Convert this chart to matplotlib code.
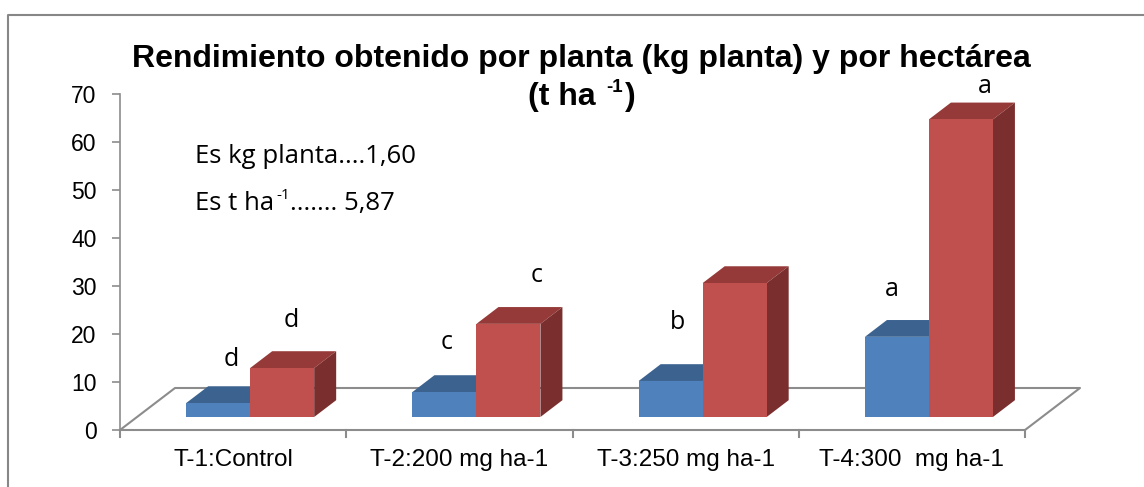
import numpy as np
import matplotlib
matplotlib.use("Agg")
import matplotlib.pyplot as plt
from matplotlib.patches import Polygon
from matplotlib.lines import Line2D

# datos
categorias = ["T-1:Control", "T-2:200 mg ha-1", "T-3:250 mg ha-1", "T-4:300  mg ha-1"]
kg_planta = [2.9, 5.2, 7.5, 16.7]
t_ha = [10.2, 19.4, 27.9, 62.0]
letras_kg = ["d", "c", "b", "a"]
letras_t = ["d", "c", "", "a"]

W, H = 1144, 487
fig = plt.figure(figsize=(W / 100, H / 100), dpi=100)
fig.patch.set_facecolor("white")

# marco del area del grafico
fig.add_artist(Line2D([8 / W, 8 / W, 1], [0, 1 - 15 / H, 1 - 15 / H], color="#878787", lw=1.5))

ax = fig.add_axes([120 / W, 1 - 430 / H, 960 / W, 336 / H])
ax.set_xlim(0, 960 / 226.25)
ax.set_ylim(0, 70)
ax.patch.set_alpha(0)

gris = "#8c8c8c"
for s in ["top", "right", "bottom"]:
    ax.spines[s].set_visible(False)
ax.spines["left"].set_color(gris)
ax.spines["left"].set_linewidth(1.2)
ax.set_yticks(range(0, 71, 10))
ax.tick_params(axis="y", colors=gris, length=6, width=1.2, labelcolor="black",
               labelsize=16.5, pad=11)
ax.set_xticks([])
for lab in ax.get_yticklabels():
    lab.set_fontfamily("Liberation Sans")

n = len(categorias)
dx, dy = 55 / 226.25, 42 / 4.8   # profundidad del piso
z0, zd = 0.31, 0.40              # posicion y fondo de las barras
ancho = 64 / 226.25

# piso
piso_x = [0, n, n + dx, dx, 0]
piso_y = [0, 0, dy, dy, 0]
ax.plot(piso_x, piso_y, color=gris, lw=1.5, clip_on=False, zorder=1)
for i in range(n + 1):
    ax.plot([i, i], [0, -1.4], color=gris, lw=1.5, clip_on=False, zorder=1)


def barra3d(x0, v, c_frente, c_top, c_lado):
    bx = x0 + z0 * dx
    by = z0 * dy
    ddx, ddy = zd * dx, zd * dy
    ax.add_patch(Polygon([(bx, by + v), (bx + ancho, by + v), (bx + ancho + ddx, by + v + ddy),
                          (bx + ddx, by + v + ddy)], closed=True, fc=c_top, ec="none", zorder=2, clip_on=False))
    ax.add_patch(Polygon([(bx + ancho, by), (bx + ancho + ddx, by + ddy), (bx + ancho + ddx, by + v + ddy),
                          (bx + ancho, by + v)], closed=True, fc=c_lado, ec="none", zorder=2, clip_on=False))
    ax.bar(bx, v, width=ancho, bottom=by, align="edge", color=c_frente, zorder=3, clip_on=False)


for i in range(n):
    c = i + 0.5
    barra3d(c - ancho, kg_planta[i], "#4f81bd", "#3c6390", "#2f5079")
    barra3d(c, t_ha[i], "#c0504d", "#953a38", "#7a2f2e")

# letras de significancia
pos_kg = [(0.491, 13.3), (1.445, 16.9), (2.466, 21.0), (3.412, 27.9)]
pos_t = [(0.756, 21.5), (1.843, 30.8), (None, None), (3.823, 70.2)]
for i in range(n):
    ax.text(pos_kg[i][0], pos_kg[i][1], letras_kg[i], ha="center", va="baseline",
            fontsize=18, family="Open Sans", clip_on=False)
    if letras_t[i]:
        ax.text(pos_t[i][0], pos_t[i][1], letras_t[i], ha="center", va="baseline",
                fontsize=18, family="Open Sans", clip_on=False)

for i, cat in enumerate(categorias):
    ax.text(i + 0.5, -4.0, cat, ha="center", va="top", fontsize=17.5,
            family="Liberation Sans", clip_on=False)

# errores estandar
x_es = (195 - 120) / 226.25
ax.text(x_es, (430 - 163) / 4.8, "Es kg planta....1,60", fontsize=18.5,
        family="Open Sans", va="baseline", ha="left")
t2 = ax.text(x_es, (430 - 210) / 4.8, "Es t ha", fontsize=18.5,
             family="Open Sans", va="baseline", ha="left")
t2b = ax.annotate("-1", xy=(1, 1), xycoords=t2, xytext=(1.5, 2), textcoords="offset points",
                  fontsize=11, family="Open Sans", va="top", ha="left")
ax.text((290 - 120) / 226.25, (430 - 210) / 4.8, "....... 5,87", fontsize=18.5,
        family="Open Sans", va="baseline", ha="left")

fig.text(581 / W, 1 - 67 / H, "Rendimiento obtenido por planta (kg planta) y por hectárea",
         ha="center", va="baseline", fontsize=23, fontweight="bold", family="Liberation Sans")
fig.text(604 / W, 1 - 105 / H, "(t ha ", ha="right", va="baseline", fontsize=23,
         fontweight="bold", family="Liberation Sans")
fig.text(606 / W, 1 - 92 / H, "-1", ha="left", va="baseline", fontsize=13.5,
         fontweight="bold", family="Liberation Sans")
fig.text(625 / W, 1 - 105 / H, ")", ha="left", va="baseline", fontsize=23,
         fontweight="bold", family="Liberation Sans")

fig.savefig("out.png", dpi=100)
